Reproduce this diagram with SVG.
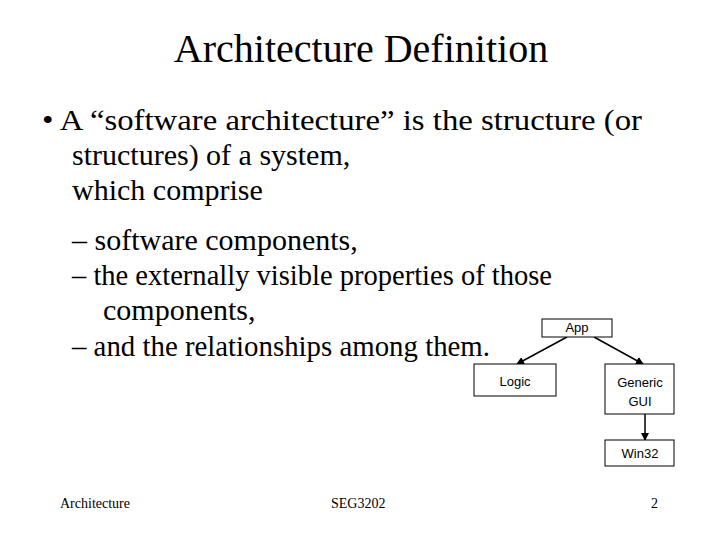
<svg xmlns="http://www.w3.org/2000/svg" width="720" height="540" viewBox="0 0 720 540">
<style>
.s{font-family:"Liberation Serif",serif;fill:#000}
.b{fill:#fff;stroke:#000;stroke-width:1}
.l{font-family:"Liberation Sans",sans-serif;font-size:13px;text-anchor:middle;fill:#000}
.c{stroke:#000;stroke-width:1.5;fill:none;marker-end:url(#a)}
</style>
<defs><marker id="a" markerWidth="8" markerHeight="8" refX="7" refY="4" orient="auto" markerUnits="userSpaceOnUse"><path d="M0,0L8,4L0,8z" fill="#000"/></marker></defs>
<rect width="720" height="540" fill="#fff"/>
<text class="s" x="361" y="62" font-size="40" text-anchor="middle">Architecture Definition</text>
<g class="s" font-size="30">
<text x="42" y="130" textLength="600" lengthAdjust="spacingAndGlyphs">• A “software architecture” is the structure (or</text>
<text x="72" y="165">structures) of a system,</text>
<text x="72" y="200">which comprise</text>
<text x="72" y="250">– software components,</text>
<text x="72" y="285" textLength="480" lengthAdjust="spacingAndGlyphs">– the externally visible properties of those</text>
<text x="103" y="320">components,</text>
<text x="72" y="356" textLength="418" lengthAdjust="spacingAndGlyphs">– and the relationships among them.</text>
</g>
<g id="connectors">
<line class="c" x1="567" y1="337" x2="517" y2="364"/>
<line class="c" x1="594" y1="337" x2="643" y2="364"/>
<line class="c" x1="645" y1="414" x2="645" y2="440"/>
</g>
<g id="app"><rect class="b" x="542" y="319" width="70" height="18"/><text class="l" x="577" y="332">App</text></g>
<g id="logic"><rect class="b" x="474" y="364" width="82" height="32"/><text class="l" x="515" y="386">Logic</text></g>
<g id="gui"><rect class="b" x="605" y="364" width="69" height="50"/><text class="l" x="640" y="387">Generic</text><text class="l" x="640" y="406">GUI</text></g>
<g id="win32"><rect class="b" x="605" y="440" width="69" height="26"/><text class="l" x="640" y="458">Win32</text></g>
<g class="s" font-size="14">
<text x="60" y="508">Architecture</text>
<text x="331" y="508">SEG3202</text>
<text x="651" y="508">2</text>
</g>
</svg>
